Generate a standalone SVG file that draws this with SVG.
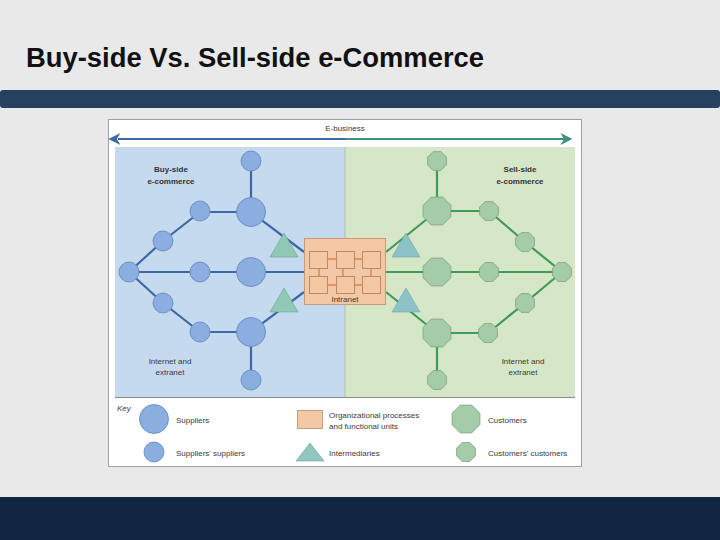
<svg xmlns="http://www.w3.org/2000/svg" width="720" height="540" viewBox="0 0 720 540">
<defs>
<style>
.bl{stroke:#3d68a6;stroke-width:2.2;fill:none}
.gl{stroke:#3f9a5c;stroke-width:2.2;fill:none}
.cir{fill:#8aaee0;stroke:#6286bb;stroke-width:0.8}
.oct{fill:#a5cca8;stroke:#7f9f83;stroke-width:0.8}
.triL{fill:#8fc8b4;stroke:#6fa594;stroke-width:0.6}
.triR{fill:#8cc3c9;stroke:#6da2a8;stroke-width:0.6}
.t{font-family:"Liberation Sans",Arial,sans-serif;font-size:8px;fill:#3a3a3a}
.tb{font-family:"Liberation Sans",Arial,sans-serif;font-size:8px;fill:#333;font-weight:bold}
.ib{fill:none;stroke:#b98a68;stroke-width:1}
.ic{stroke:#d9772f;stroke-width:1.2}
</style>
<polygon id="octB" points="5.7,-13.9 13.9,-5.7 13.9,5.7 5.7,13.9 -5.7,13.9 -13.9,5.7 -13.9,-5.7 -5.7,-13.9"/>
<polygon id="octS" points="3.9,-9.4 9.4,-3.9 9.4,3.9 3.9,9.4 -3.9,9.4 -9.4,3.9 -9.4,-3.9 -3.9,-9.4"/>
<marker id="ahB" viewBox="0 0 10 10" refX="2" refY="5" markerWidth="6" markerHeight="6" orient="auto-start-reverse"><path d="M0,0 L10,5 L0,10 L3,5 z" fill="#3d68a6"/></marker>
<marker id="ahG" viewBox="0 0 10 10" refX="8" refY="5" markerWidth="6" markerHeight="6" orient="auto"><path d="M0,0 L10,5 L0,10 L3,5 z" fill="#3f8f7a"/></marker>
</defs>
<rect x="0" y="0" width="720" height="540" fill="#e9e9e9"/>
<text x="26" y="67" font-family="'Liberation Sans',Arial,sans-serif" font-size="27" font-weight="bold" fill="#111" textLength="458" lengthAdjust="spacingAndGlyphs">Buy-side Vs. Sell-side e-Commerce</text>
<rect x="0" y="90" width="720" height="18" rx="3" fill="#27405f"/>
<rect x="0" y="497" width="720" height="43" fill="#0f2541"/>

<g id="frame">
<rect x="108.5" y="119.5" width="473" height="347" fill="#fff" stroke="#a0a0a0" stroke-width="1"/>
<rect x="115" y="147" width="230" height="250" fill="#c5d9ef"/>
<rect x="345" y="147" width="230" height="250" fill="#d6e7c7"/>
<line x1="115" y1="397.5" x2="575" y2="397.5" stroke="#8a8a8a" stroke-width="1"/>
<line x1="345" y1="147" x2="345" y2="397" stroke="#a9b9a9" stroke-width="0.8"/>
</g>

<g id="ebusiness">
<line x1="118" y1="139" x2="345" y2="139" stroke="#3d68a6" stroke-width="2" marker-start="url(#ahB)"/>
<line x1="345" y1="139" x2="570" y2="139" stroke="#3f8f7a" stroke-width="2" marker-end="url(#ahG)"/>
<text x="345" y="131" class="t" text-anchor="middle">E-business</text>
</g>

<g id="connectors">
<path class="bl" d="M251,161 V212 M251,212 H200 L163,241 L129,272 M129,272 H304 M129,272 L163,303 L200,332 H251 M251,332 V380 M251,212 L304,252 M251,332 L304,292"/>
<path class="gl" d="M437,161 V211 M437,211 H489 L525,242 L562,272 M386,272 H562 M562,272 L525,303 L488,333 H437 M437,333 V380 M437,211 L386,252 M437,333 L386,292"/>
</g>

<g id="buy-side">
<text x="171" y="172" class="tb" text-anchor="middle">Buy-side</text>
<text x="171" y="184" class="tb" text-anchor="middle">e-commerce</text>
<g id="b-top"><circle class="cir" cx="251" cy="161" r="10"/></g>
<g id="b-big1"><circle class="cir" cx="251" cy="212" r="14.5"/></g>
<g id="b-s1"><circle class="cir" cx="200" cy="211" r="10"/></g>
<g id="b-s2"><circle class="cir" cx="163" cy="241" r="10"/></g>
<g id="b-left"><circle class="cir" cx="129" cy="272" r="10"/></g>
<g id="b-s3"><circle class="cir" cx="200" cy="272" r="10"/></g>
<g id="b-big2"><circle class="cir" cx="251" cy="272" r="14.5"/></g>
<g id="b-s4"><circle class="cir" cx="163" cy="303" r="10"/></g>
<g id="b-s5"><circle class="cir" cx="200" cy="332" r="10"/></g>
<g id="b-big3"><circle class="cir" cx="251" cy="332" r="14.5"/></g>
<g id="b-bottom"><circle class="cir" cx="251" cy="380" r="10"/></g>
<g id="b-tri1"><polygon class="triL" points="284,233 298,257 270,257"/></g>
<g id="b-tri2"><polygon class="triL" points="284,288 298,312 270,312"/></g>
<text x="170" y="364" class="t" text-anchor="middle">Internet and</text>
<text x="170" y="375" class="t" text-anchor="middle">extranet</text>
</g>

<g id="sell-side">
<text x="520" y="172" class="tb" text-anchor="middle">Sell-side</text>
<text x="520" y="184" class="tb" text-anchor="middle">e-commerce</text>
<g id="s-top"><use href="#octS" class="oct" x="437" y="161"/></g>
<g id="s-big1"><use href="#octB" class="oct" x="437" y="211"/></g>
<g id="s-s1"><use href="#octS" class="oct" x="489" y="211"/></g>
<g id="s-s2"><use href="#octS" class="oct" x="525" y="242"/></g>
<g id="s-right"><use href="#octS" class="oct" x="562" y="272"/></g>
<g id="s-s3"><use href="#octS" class="oct" x="489" y="272"/></g>
<g id="s-big2"><use href="#octB" class="oct" x="437" y="272"/></g>
<g id="s-s4"><use href="#octS" class="oct" x="525" y="303"/></g>
<g id="s-s5"><use href="#octS" class="oct" x="488" y="333"/></g>
<g id="s-big3"><use href="#octB" class="oct" x="437" y="333"/></g>
<g id="s-bottom"><use href="#octS" class="oct" x="437" y="380"/></g>
<g id="s-tri1"><polygon class="triR" points="406,233 420,257 392,257"/></g>
<g id="s-tri2"><polygon class="triR" points="406,288 420,312 392,312"/></g>
<text x="523" y="364" class="t" text-anchor="middle">Internet and</text>
<text x="523" y="375" class="t" text-anchor="middle">extranet</text>
</g>

<g id="intranet">
<rect x="304.5" y="238.5" width="81" height="66" fill="#f4c8a4" stroke="#c8997a" stroke-width="1"/>
<line class="ic" x1="328" y1="259" x2="336" y2="259"/>
<line class="ic" x1="354" y1="259" x2="362" y2="259"/>
<line class="ic" x1="328" y1="285" x2="336" y2="285"/>
<line class="ic" x1="354" y1="285" x2="362" y2="285"/>
<line class="ic" x1="319" y1="268" x2="319" y2="276"/>
<line class="ic" x1="343" y1="268" x2="343" y2="276"/>
<line class="ic" x1="371" y1="268" x2="371" y2="276"/>
<rect class="ib" x="309.5" y="251.5" width="18" height="17"/>
<rect class="ib" x="336.5" y="251.5" width="18" height="17"/>
<rect class="ib" x="362.5" y="251.5" width="18" height="17"/>
<rect class="ib" x="309.5" y="276.5" width="18" height="17"/>
<rect class="ib" x="336.5" y="276.5" width="18" height="17"/>
<rect class="ib" x="362.5" y="276.5" width="18" height="17"/>
<text x="345" y="302" class="t" text-anchor="middle">Intranet</text>
</g>

<g id="key">
<text x="117" y="411" class="t" font-style="italic">Key</text>
<circle class="cir" cx="154" cy="419" r="14.5"/>
<text x="176" y="423" class="t">Suppliers</text>
<circle class="cir" cx="154" cy="452" r="10"/>
<text x="176" y="456" class="t">Suppliers' suppliers</text>
<rect x="297.5" y="410.5" width="25" height="18" fill="#f4c8a4" stroke="#b98a68" stroke-width="0.8"/>
<text x="329" y="418" class="t">Organizational processes</text>
<text x="329" y="429" class="t">and functional units</text>
<polygon points="310,443 324,461 296,461" fill="#8fc6c0" stroke="#6da2a0" stroke-width="0.6"/>
<text x="329" y="456" class="t">Intermediaries</text>
<use href="#octB" class="oct" x="466" y="419"/>
<text x="488" y="423" class="t">Customers</text>
<use href="#octS" class="oct" x="466" y="452"/>
<text x="488" y="456" class="t">Customers' customers</text>
</g>
</svg>
